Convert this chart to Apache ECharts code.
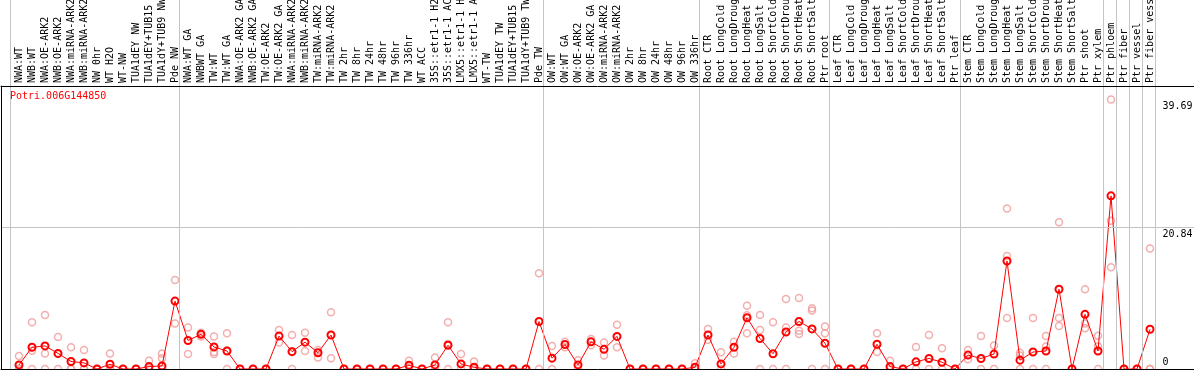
<!DOCTYPE html>
<html><head><meta charset="utf-8">
<script src="https://cdn.jsdelivr.net/npm/echarts@6/dist/echarts.min.js"></script>
<style>html,body{margin:0;padding:0;background:#fff}#c{width:1194px;height:370px}</style>
</head><body><div id="c"></div>
<script>
const geneId = 'Potri.006G144850';

const catsNW = ['NWA:WT','NWB:WT','NWA:OE-ARK2','NWB:OE-ARK2','NWA:miRNA-ARK2','NWB:miRNA-ARK2','NW 0hr','WT H2O','WT-NW','TUA1dEY NW','TUA1dEY+TUB15','TUA1dY+TUB9 NW','Pde NW'];
const catsTW = ['NWA:WT GA','NWBWT GA','TW:WT','TW:WT GA','NWA:OE-ARK2 GA','NWB:OE-ARK2 GA','TW:OE-ARK2','TW:OE-ARK2 GA','NWA:miRNA-ARK2','NWB:miRNA-ARK2','TW:miRNA-ARK2','TW:miRNA-ARK2','TW 2hr','TW 8hr','TW 24hr','TW 48hr','TW 96hr','TW 336hr','WT ACC','35S::etr1-1 H2O','35S::etr1-1 ACC','LMX5::etr1-1 H2O','LMX5::etr1-1 ACC','WT-TW','TUA1dEY TW','TUA1dEY+TUB15 TW','TUA1dY+TUB9 TW','Pde TW'];
const catsOW = ['OW:WT','OW:WT GA','OW:OE-ARK2','OW:OE-ARK2 GA','OW:miRNA-ARK2','OW:miRNA-ARK2','OW 2hr','OW 8hr','OW 24hr','OW 48hr','OW 96hr','OW 336hr'];
const catsRoot = ['Root CTR','Root LongCold','Root LongDrought','Root LongHeat','Root LongSalt','Root ShortCold','Root ShortDrought','Root ShortHeat','Root ShortSalt','Ptr root'];
const catsLeaf = ['Leaf CTR','Leaf LongCold','Leaf LongDrought','Leaf LongHeat','Leaf LongSalt','Leaf ShortCold','Leaf ShortDrought','Leaf ShortHeat','Leaf ShortSalt','Ptr leaf'];
const catsStem = ['Stem CTR','Stem LongCold','Stem LongDrought','Stem LongHeat','Stem LongSalt','Stem ShortCold','Stem ShortDrought','Stem ShortHeat','Stem ShortSalt','Ptr shoot','Ptr xylem'];
const catsPtr = ['Ptr phloem','Ptr fiber','Ptr vessel','Ptr fiber vessel'];

const meansNW = [0.6,3.2,3.4,2.3,1.1,0.9,0,0.7,0,0,0.35,0.45,10.0];
const meansTW = [4.2,5.1,3.25,2.65,0,0,0,4.85,2.55,3.95,2.4,5.0,0,0,0,0,0,0.55,0,0.6,3.5,0.75,0.25,0,0,0,0,7.0];
const meansOW = [1.6,3.6,0.6,4.0,2.9,4.8,0,0,0,0,0,0.25];
const meansRoot = [5.0,0.75,3.2,7.55,4.5,2.25,5.45,7.0,5.9,3.8];
const meansLeaf = [0,0,0,3.65,0.35,0,1.05,1.55,1.0,0];
const meansStem = [2.05,1.55,2.2,15.9,1.3,2.5,2.65,11.75,0,8.05,2.65];
const meansPtr = [25.5,0,0,5.85];

const repsNW = [[1.9,0,0],[6.9,2.7,0],[7.95,2.3,0],[4.7,2.2,0],[3.2,0,0],[2.8,0,0],[0,0,0],[2.3,0,0],[0,0],[0,0],[1.2,0],[2.3,1.6,0],[13.1,6.7]];
const repsTW = [[6.1,2.2],[5.35,4.8],[4.8,2.5,2.2],[5.25,2.7,0],[0,0],[0,0],[0,0],[5.75,3.9],[5.0,2.6,0],[5.35,2.65],[2.8,1.7],[8.35,1.6],[0,0],[0,0],[0,0],[0,0],[0,0],[1.2,0.3],[0,0],[1.7,0],[6.9,3.7,0],[2.2,0],[1.1,0],[0,0],[0,0],[0,0],[0,0],[14.1,0]];
const repsOW = [[3.4,0],[4.0,3.2],[1.3,0],[4.4,3.5],[3.9,2.0],[6.5,3.2],[0,0],[0,0],[0,0],[0,0],[0,0],[0.85,0]];
const repsRoot = [[5.9,4.3],[2.45,0],[4.0,2.3],[9.3,7.9,5.25],[7.95,5.75,0],[6.9,0],[10.3,6.1,0],[10.45,5.65,5.15],[8.95,8.6,0],[6.25,5.25,0]];
const repsLeaf = [[0,0],[0,0],[0,0],[5.25,2.5],[1.2,0],[0,0],[3.25,0],[5.0,0],[3.05,0],[0,0]];
const repsStem = [[2.8,1.45],[4.85,0],[3.45,0],[23.65,16.65,7.5],[2.4,2.0,0],[7.5,0],[4.85,3.3,0],[21.6,7.5,6.35],[0,0],[11.75,6.7,6.0],[4.9,3.3,0]];
const repsPtr = [[39.69,21.85,15.0],[0,0],[0,0],[17.75,0,0]];

const yTicks = [0, 20.84, 39.69];

const groups = [catsNW, catsTW, catsOW, catsRoot, catsLeaf, catsStem].concat(catsPtr.map(c => [c]));
const categories = [].concat(catsNW, catsTW, catsOW, catsRoot, catsLeaf, catsStem, catsPtr);
const means = [].concat(meansNW, meansTW, meansOW, meansRoot, meansLeaf, meansStem, meansPtr);
const reps = [].concat(repsNW, repsTW, repsOW, repsRoot, repsLeaf, repsStem, repsPtr);
const repPoints = [];
reps.forEach((arr, i) => arr.forEach(v => repPoints.push([i, v])));
const boundaries = [0];
groups.forEach(g => boundaries.push(boundaries[boundaries.length - 1] + g.length));
const N = categories.length;
const yMax = 2 * yTicks[1];
const mono = 'DejaVu Sans Mono';
const cell = 13;
const frameLine = {show: true, onZero: false, lineStyle: {color: '#000', width: 1}};

const chart = echarts.init(document.getElementById('c'), null, {renderer: 'canvas'});
chart.setOption({
  animation: false,
  backgroundColor: '#fff',
  title: {text: geneId, left: 10, top: 91, padding: 0,
    textStyle: {color: '#ff0000', fontSize: 10, fontFamily: mono, fontWeight: 'normal'}},
  grid: [
    {left: 12.5, width: N * cell, top: 86, bottom: 1, containLabel: false, outerBoundsMode: 'none'},
    {left: 10, width: N * cell + 1, top: 0, bottom: 0, containLabel: false, outerBoundsMode: 'none'},
    {left: 1, right: 0, top: 86, bottom: 1, containLabel: false, outerBoundsMode: 'none'}
  ],
  xAxis: [
    {gridIndex: 0, type: 'category', data: categories, position: 'top', boundaryGap: true,
      axisLine: {show: false}, axisTick: {show: false}, splitLine: {show: false},
      axisLabel: {interval: 0, rotate: 90, margin: 3, fontSize: 10, fontFamily: mono, color: '#000', hideOverlap: false}},
    {gridIndex: 1, type: 'value', min: 0, max: N, show: false},
    {gridIndex: 2, type: 'value', min: 0, max: 1, position: 'top', z: 10,
      axisLine: frameLine, axisTick: {show: false}, axisLabel: {show: false}, splitLine: {show: false}},
    {gridIndex: 2, type: 'value', min: 0, max: 1, position: 'bottom', z: 10,
      axisLine: frameLine, axisTick: {show: false}, axisLabel: {show: false}, splitLine: {show: false}}
  ],
  yAxis: [
    {gridIndex: 0, type: 'value', min: 0, max: yMax, position: 'right',
      axisLine: {show: false}, axisTick: {show: false}, splitLine: {show: false},
      axisLabel: {customValues: yTicks.slice(1), formatter: v => String(v), verticalAlign: 'top',
        lineHeight: 14, margin: 6, fontSize: 10, fontFamily: mono, color: '#000'}},
    {gridIndex: 0, type: 'value', min: 0, max: yMax, position: 'right',
      axisLine: {show: false}, axisTick: {show: false}, splitLine: {show: false},
      axisLabel: {customValues: [yTicks[0]], formatter: v => String(v), verticalAlign: 'bottom',
        lineHeight: 14, margin: 6, fontSize: 10, fontFamily: mono, color: '#000'}},
    {gridIndex: 1, type: 'value', min: 0, max: 1, show: false},
    {gridIndex: 2, type: 'value', min: 0, max: yMax, position: 'left', z: 10,
      axisLine: frameLine, axisTick: {show: false}, axisLabel: {show: false}, splitLine: {show: false}}
  ],
  series: [
    {type: 'line', xAxisIndex: 1, yAxisIndex: 2, data: [], z: 1, silent: true,
      markLine: {silent: true, symbol: ['none', 'none'], label: {show: false},
        lineStyle: {color: '#c4c4c4', width: 1, type: 'solid'},
        data: boundaries.map(b => ({xAxis: b}))}},
    {type: 'line', xAxisIndex: 2, yAxisIndex: 3, data: [], z: 1, silent: true,
      markLine: {silent: true, symbol: ['none', 'none'], label: {show: false},
        lineStyle: {color: '#c4c4c4', width: 1, type: 'solid'},
        data: [{yAxis: yTicks[1]}]}},
    {type: 'scatter', xAxisIndex: 0, yAxisIndex: 0, data: repPoints, z: 3, silent: true,
      symbol: 'circle', symbolSize: 7,
      itemStyle: {color: 'rgba(0,0,0,0)', borderColor: '#f09a9a', borderWidth: 1.5}},
    {type: 'line', xAxisIndex: 0, yAxisIndex: 0, data: means, z: 4, silent: true,
      symbol: 'circle', symbolSize: 7, showAllSymbol: true,
      lineStyle: {color: '#ff0000', width: 1},
      itemStyle: {color: 'rgba(0,0,0,0)', borderColor: '#ff0000', borderWidth: 2}}
  ]
});
</script></body></html>
